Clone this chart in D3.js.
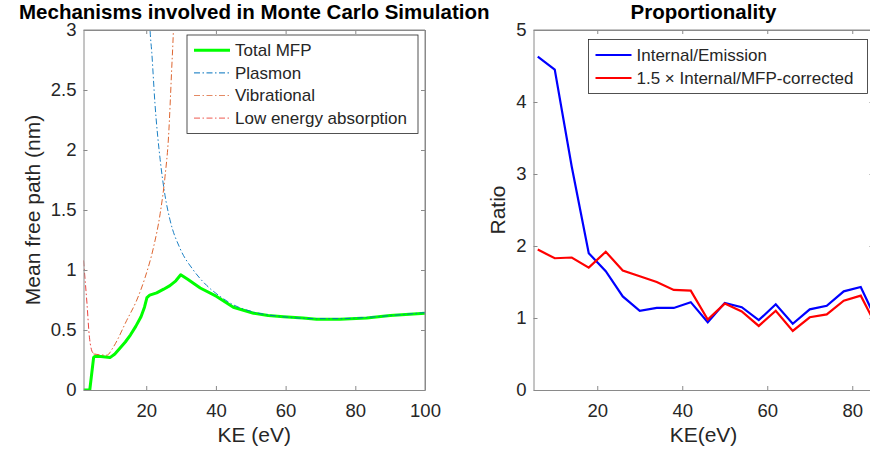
<!DOCTYPE html>
<html>
<head>
<meta charset="utf-8">
<script src="https://cdn.jsdelivr.net/npm/d3@7"></script>
<style>
  body { margin: 0; background: #fff; overflow: hidden; }
  svg { display: block; font-family: "Liberation Sans", Arial, sans-serif; }
  .tick text { fill: #262626; }
</style>
</head>
<body>
<div id="vis"></div>
<script>
// ---- left panel data ----
var keTotal = [2, 3, 3.8, 4.9, 5.2, 7, 9.6, 11, 12.5, 14, 15.5, 17, 18.5, 19.5, 20.2, 21, 23, 25, 26.8, 28.5, 29.9, 32, 35.5, 40.2, 45, 50.8, 55, 59.4, 65, 68.9, 75.6, 83.3, 90, 100];
var totalMFP = [0, 0, 0, 0.27, 0.28, 0.28, 0.27, 0.30, 0.35, 0.40, 0.46, 0.53, 0.61, 0.69, 0.77, 0.79, 0.81, 0.84, 0.87, 0.91, 0.96, 0.92, 0.85, 0.78, 0.69, 0.64, 0.62, 0.61, 0.60, 0.59, 0.59, 0.60, 0.62, 0.64];

var kePlasmon = [20.8, 21.1, 21.6, 22.5, 24.0, 25.4, 26.8, 29.7, 33.5, 37.4, 41.2, 45, 50.8, 59.4, 68.9, 75.6, 83.3, 90, 100];
var plasmon = [3.2, 3.0, 2.81, 2.39, 1.92, 1.62, 1.42, 1.18, 1.0, 0.87, 0.78, 0.71, 0.65, 0.61, 0.595, 0.595, 0.605, 0.62, 0.645];

var keVib = [4.9, 8.7, 10.6, 14.4, 17.3, 19.7, 22.1, 24.0, 25.4, 26.4, 27.3, 27.8, 28.1];
var vibrational = [0.30, 0.29, 0.36, 0.58, 0.75, 0.94, 1.19, 1.47, 1.78, 2.11, 2.67, 3.0, 3.3];

var keLow = [2, 3, 3.7, 4.7, 5.5];
var lowEnergy = [1.08, 0.72, 0.44, 0.31, 0.30];

// ---- right panel data ----
var keRatio = [6, 10, 14, 18, 22, 26, 30, 34, 38, 42, 46, 50, 54, 58, 62, 66, 70, 74, 78, 82, 86];
var internalEmission = [4.63, 4.45, 3.1, 1.90, 1.65, 1.30, 1.10, 1.14, 1.14, 1.22, 0.94, 1.21, 1.15, 0.97, 1.19, 0.92, 1.12, 1.17, 1.37, 1.43, 0.93];
var mfpCorrected = [1.95, 1.83, 1.84, 1.70, 1.92, 1.66, 1.58, 1.50, 1.39, 1.38, 0.98, 1.20, 1.09, 0.89, 1.10, 0.82, 1.01, 1.05, 1.24, 1.31, 0.85];

var leftXTicks = [20, 40, 60, 80, 100];
var leftYTicks = [0, 0.5, 1, 1.5, 2, 2.5, 3];
var rightXTicks = [20, 40, 60, 80];
var rightYTicks = [0, 1, 2, 3, 4, 5];

var W = 870, H = 452;
var axisColor = '#8a8a8a', textColor = '#262626';

var svg = d3.select('#vis').append('svg')
  .attr('width', W)
  .attr('height', H);

function zip(xs, ys) { return xs.map(function(x, i) { return [x, ys[i]]; }); }

// draws a boxed matlab-style axes, returns scales
function makePanel(opt) {
  var x = d3.scaleLinear().domain(opt.xDomain).range([opt.left, opt.right]);
  var y = d3.scaleLinear().domain(opt.yDomain).range([opt.bottom, opt.top]);
  var g = svg.append('g');

  g.append('clipPath').attr('id', opt.id + 'Clip')
    .append('rect')
    .attr('x', opt.left).attr('y', opt.top)
    .attr('width', opt.right - opt.left).attr('height', opt.bottom - opt.top);

  var plot = g.append('g').attr('clip-path', 'url(#' + opt.id + 'Clip)');

  // axes with inward ticks
  var bottom = g.append('g')
    .attr('transform', 'translate(0,' + opt.bottom + ')')
    .call(d3.axisBottom(x).tickValues(opt.xTicks).tickSizeInner(-4).tickSizeOuter(0).tickPadding(14));
  g.append('g')
    .attr('transform', 'translate(0,' + opt.top + ')')
    .call(d3.axisTop(x).tickValues(opt.xTicks).tickSizeInner(-4).tickSizeOuter(0).tickFormat(''));
  g.append('g')
    .attr('transform', 'translate(' + opt.left + ',0)')
    .call(d3.axisLeft(y).tickValues(opt.yTicks).tickSizeInner(-4).tickSizeOuter(0).tickPadding(7).tickFormat(d3.format('~g')));
  g.append('g')
    .attr('transform', 'translate(' + opt.right + ',0)')
    .call(d3.axisRight(y).tickValues(opt.yTicks).tickSizeInner(-4).tickSizeOuter(0).tickFormat(''));

  g.selectAll('.domain').attr('stroke', axisColor);
  g.selectAll('.tick line').attr('stroke', axisColor);
  g.selectAll('.tick text').style('font-size', '18.5px').attr('fill', textColor);
  bottom.selectAll('.tick text').attr('dy', '0.72em');

  // top/right border lines
  g.append('line').attr('x1', opt.left).attr('x2', opt.right).attr('y1', opt.top).attr('y2', opt.top).attr('stroke', axisColor);
  g.append('line').attr('x1', opt.right).attr('x2', opt.right).attr('y1', opt.top).attr('y2', opt.bottom).attr('stroke', axisColor);

  // labels and title
  g.append('text')
    .attr('x', (opt.left + opt.right) / 2).attr('y', 442)
    .attr('text-anchor', 'middle').style('font-size', '21px').attr('fill', textColor)
    .text(opt.xLabel);
  g.append('text')
    .attr('transform', 'translate(' + opt.yLabelX + ',' + (opt.top + opt.bottom) / 2 + ') rotate(-90)')
    .attr('text-anchor', 'middle').style('font-size', '21px').attr('fill', textColor)
    .text(opt.yLabel);
  g.append('text')
    .attr('x', (opt.left + opt.right) / 2).attr('y', 19)
    .attr('text-anchor', 'middle').style('font-size', '20.5px').style('font-weight', 'bold').attr('fill', '#000')
    .text(opt.title);

  return { x: x, y: y, plot: plot, g: g };
}

function drawLegend(g, x0, y0, w, rowH, items) {
  var lg = g.append('g');
  lg.append('rect')
    .attr('x', x0).attr('y', y0).attr('width', w).attr('height', rowH * items.length + 8)
    .attr('fill', '#fff').attr('stroke', '#262626').attr('stroke-width', 0.8);
  items.forEach(function(it, i) {
    var cy = y0 + 4 + rowH * (i + 0.5);
    lg.append('line')
      .attr('x1', x0 + 7).attr('x2', x0 + 43).attr('y1', cy).attr('y2', cy)
      .attr('stroke', it.color).attr('stroke-width', it.width)
      .attr('stroke-dasharray', it.dash || null);
    lg.append('text')
      .attr('x', x0 + 48).attr('y', cy).attr('dy', '0.35em')
      .style('font-size', '17px').attr('fill', textColor)
      .text(it.label);
  });
}

var dashDot = '6,2.5,1.5,2.5';

// ---- left panel ----
var L = makePanel({
  id: 'mfp', left: 83.5, right: 425, top: 30, bottom: 390,
  xDomain: [2, 100], yDomain: [0, 3], xTicks: leftXTicks, yTicks: leftYTicks,
  xLabel: 'KE (eV)', yLabel: 'Mean free path (nm)', yLabelX: 40,
  title: 'Mechanisms involved in Monte Carlo Simulation'
});

var lineL = d3.line().x(function(d) { return L.x(d[0]); }).y(function(d) { return L.y(d[1]); });
var smoothL = d3.line().curve(d3.curveMonotoneX).x(function(d) { return L.x(d[0]); }).y(function(d) { return L.y(d[1]); });

L.plot.append('path').datum(zip(keTotal, totalMFP))
  .attr('d', lineL).attr('fill', 'none').attr('stroke', '#00ff00').attr('stroke-width', 3).attr('stroke-linejoin', 'round');
L.plot.append('path').datum(zip(kePlasmon, plasmon))
  .attr('d', smoothL).attr('fill', 'none').attr('stroke', '#0072bd').attr('stroke-width', 0.9).attr('stroke-dasharray', dashDot);
L.plot.append('path').datum(zip(keVib, vibrational))
  .attr('d', smoothL).attr('fill', 'none').attr('stroke', '#d95319').attr('stroke-width', 0.9).attr('stroke-dasharray', dashDot);
L.plot.append('path').datum(zip(keLow, lowEnergy))
  .attr('d', smoothL).attr('fill', 'none').attr('stroke', '#e8302a').attr('stroke-width', 0.9).attr('stroke-dasharray', dashDot);

drawLegend(L.g, 187, 35, 231, 22.6, [
  { label: 'Total MFP', color: '#00ff00', width: 3 },
  { label: 'Plasmon', color: '#0072bd', width: 1, dash: dashDot },
  { label: 'Vibrational', color: '#e48a64', width: 1, dash: dashDot },
  { label: 'Low energy absorption', color: '#ee5a50', width: 1, dash: dashDot }
]);

// ---- right panel ----
var R = makePanel({
  id: 'ratio', left: 533.5, right: 873.5, top: 30, bottom: 390,
  xDomain: [5, 85], yDomain: [0, 5], xTicks: rightXTicks, yTicks: rightYTicks,
  xLabel: 'KE(eV)', yLabel: 'Ratio', yLabelX: 505,
  title: 'Proportionality'
});

var lineR = d3.line().x(function(d) { return R.x(d[0]); }).y(function(d) { return R.y(d[1]); });

R.plot.append('path').datum(zip(keRatio, internalEmission))
  .attr('d', lineR).attr('fill', 'none').attr('stroke', '#0000ff').attr('stroke-width', 2.2);
R.plot.append('path').datum(zip(keRatio, mfpCorrected))
  .attr('d', lineR).attr('fill', 'none').attr('stroke', '#ff0000').attr('stroke-width', 2.2);

drawLegend(R.g, 588.5, 39.5, 279, 23, [
  { label: 'Internal/Emission', color: '#0000ff', width: 2.2 },
  { label: '1.5 \u00d7 Internal/MFP-corrected', color: '#ff0000', width: 2.2 }
]);
</script>
</body>
</html>
